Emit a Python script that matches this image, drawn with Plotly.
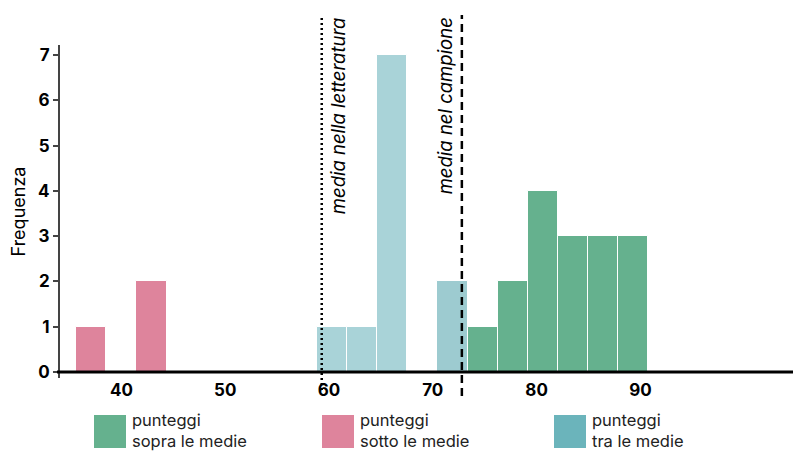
import plotly.graph_objects as go

# ---- data ----
bin_width = 2.9
sotto_x = [37.1, 42.9]
sotto_y = [1, 2]
tra_x = [60.3, 63.2, 66.1, 71.9]
tra_y = [1, 1, 7, 2]
sopra_x = [74.8, 77.7, 80.6, 83.5, 86.4, 89.3]
sopra_y = [1, 2, 4, 3, 3, 3]
media_letteratura = 59.3
media_campione = 72.8
x_ticks = [40, 50, 60, 70, 80, 90]
y_ticks = [0, 1, 2, 3, 4, 5, 6, 7]

legend_labels = ["punteggi<br>sopra le medie", "punteggi<br>sotto le medie", "punteggi<br>tra le medie"]

# ---- style ----
GREEN = "#65B18E"
PINK = "#DE849C"
TEAL = "#6BB4BB"
TEAL_BARS = ["#A9D3D8", "#A9D3D8", "#A9D3D8", "#9DCBD0"]
FONT = "Inter"

OFF = 8  # page body margin
W, H = 801 - OFF, 452 - OFF
ML, MR, MT, MB = 60 - OFF, 0, 45 - OFF, 452 - 378
PW, PH = W - ML - MR, H - MT - MB


def px_x(p):  # page pixel -> paper
    return (p - OFF - ML) / PW


def px_y(p):
    return (378 - p) / PH


fig = go.Figure()
fig.add_bar(x=sotto_x, y=sotto_y, width=bin_width, marker=dict(color=PINK, line=dict(color="white", width=1)), showlegend=False)
fig.add_bar(x=tra_x, y=tra_y, width=bin_width, marker=dict(color=TEAL_BARS, line=dict(color="white", width=1)), showlegend=False)
fig.add_bar(x=sopra_x, y=sopra_y, width=bin_width, marker=dict(color=GREEN, line=dict(color="white", width=1)), showlegend=False)

# x axis baseline
fig.add_shape(type="line", xref="paper", yref="y", x0=px_x(57), x1=1, y0=0, y1=0,
              line=dict(color="black", width=3), layer="above")
# mean lines
fig.add_shape(type="line", xref="x", yref="paper", x0=media_letteratura, x1=media_letteratura,
              y0=px_y(390), y1=px_y(15), line=dict(color="black", width=2.5, dash="2px,3px"), layer="above")
fig.add_shape(type="line", xref="x", yref="paper", x0=media_campione, x1=media_campione,
              y0=px_y(396), y1=px_y(15), line=dict(color="black", width=2.5, dash="8px,5px"), layer="above")

fig.add_annotation(text="media nella letteratura", xref="x", yref="paper", x=media_letteratura, y=px_y(15),
                   xanchor="center", yanchor="top", xshift=16, textangle=-90, showarrow=False,
                   font=dict(family=FONT, size=18.5, color="black", style="italic"))
fig.add_annotation(text="media nel campione", xref="x", yref="paper", x=media_campione, y=px_y(15),
                   xanchor="center", yanchor="top", xshift=-17, textangle=-90, showarrow=False,
                   font=dict(family=FONT, size=18.5, color="black", style="italic"))

# legend
leg_x = [94, 322, 554]
leg_colors = [GREEN, PINK, TEAL]
for lx, col, label in zip(leg_x, leg_colors, legend_labels):
    fig.add_shape(type="rect", xref="paper", yref="paper", x0=px_x(lx), x1=px_x(lx + 32),
                  y0=px_y(448), y1=px_y(415), fillcolor=col, line=dict(width=0))
    fig.add_annotation(text=label, xref="paper", yref="paper", x=px_x(lx + 36), y=px_y(430),
                       xanchor="left", yanchor="middle", align="left", showarrow=False,
                       font=dict(family=FONT, size=16.5, color="#222"))

x0 = 60 + (60 - 329) / 10.38
x1 = 60 + (801 - 329) / 10.38
y0 = -(378 - 372) / 45.29
y1 = 7 + (55 - 45) / 45.29

fig.update_layout(
    width=W, height=H, margin=dict(l=ML, r=MR, t=MT, b=MB, pad=0),
    plot_bgcolor="white", paper_bgcolor="white",
    font=dict(family=FONT, color="black"),
    barmode="overlay", bargap=0,
    xaxis=dict(range=[x0, x1], tickvals=x_ticks, showgrid=False, zeroline=False, showline=False,
               ticks="", tickfont=dict(family=FONT, size=17, color="black", weight="bold")),
    yaxis=dict(range=[y0, y1], tickvals=y_ticks, showgrid=False, zeroline=False, showline=True,
               linecolor="#444", linewidth=2, ticks="outside", ticklen=5, tickwidth=2, tickcolor="#444",
               tickfont=dict(family=FONT, size=17, color="black", weight="bold"),
               title=dict(text="Frequenza", standoff=12, font=dict(family=FONT, size=18, color="black"))),
)

fig.write_html("out.html")
